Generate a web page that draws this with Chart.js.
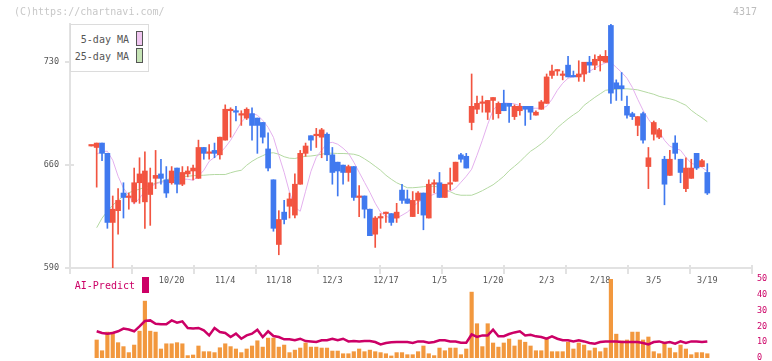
<!DOCTYPE html>
<html><head><meta charset="utf-8">
<script src="https://cdn.jsdelivr.net/npm/chart.js@4.4.1/dist/chart.umd.min.js"></script>
<style>
html,body{margin:0;padding:0;background:#fff}
#wrap{position:relative;width:772px;height:361px;overflow:hidden;font-family:'DejaVu Sans Mono',monospace}
canvas{position:absolute;left:0}
.t{position:absolute;white-space:nowrap;font-size:10px;line-height:12px}
.sw{position:absolute;box-sizing:border-box}
</style></head><body>
<div id="wrap">
<canvas id="main" width="772" height="290" style="top:0"></canvas>
<canvas id="vol" width="772" height="91" style="top:270px"></canvas>
<div class="t" style="left:14px;top:6px;color:#c8c8c8">(C)https://chartnavi.com/</div>
<div class="t" style="left:733px;top:6px;color:#bdbdbd">4317</div>
<div style="position:absolute;left:70px;top:24px;width:79px;height:48px;box-sizing:border-box;border:1px solid #dcdcdc;background:#fff"></div>
<div class="t" style="right:643px;top:34px;color:#555">5-day MA</div>
<div class="t" style="right:643px;top:51px;color:#555">25-day MA</div>
<div class="sw" style="left:136px;top:31px;width:7px;height:15px;border:1px solid #555;background:#f0c6f0"></div>
<div class="sw" style="left:136px;top:48px;width:7px;height:15px;border:1px solid #555;background:#c6e4b6"></div>
<div class="t" style="right:637px;top:280px;color:#cc0066">AI-Predict</div>
<div class="sw" style="left:142px;top:277px;width:7px;height:16px;background:#cc0066"></div>
</div>
<script>
// ---- data ----
const dates = ["9/26","9/29","9/30","10/1","10/2","10/3","10/6","10/7","10/8","10/9",
"10/10","10/14","10/15","10/16","10/17","10/20","10/21","10/22","10/23","10/24",
"10/27","10/28","10/29","10/30","10/31","11/4","11/5","11/6","11/7","11/10",
"11/11","11/12","11/13","11/14","11/17","11/18","11/19","11/20","11/21","11/25",
"11/26","11/27","11/28","12/1","12/2","12/3","12/4","12/5","12/8","12/9",
"12/10","12/11","12/12","12/15","12/16","12/17","12/18","12/19","12/22","12/23",
"12/24","12/25","12/26","12/29","12/30","1/5","1/6","1/7","1/8","1/9",
"1/13","1/14","1/15","1/16","1/19","1/20","1/21","1/22","1/23","1/26",
"1/27","1/28","1/29","1/30","2/2","2/3","2/4","2/5","2/6","2/9",
"2/10","2/12","2/13","2/16","2/17","2/18","2/19","2/20","2/24","2/25",
"2/26","2/27","3/2","3/3","3/4","3/5","3/6","3/9","3/10","3/11",
"3/12","3/13","3/16","3/17","3/18","3/19"];
const tickLabels = ["10/20","11/4","11/18","12/3","12/17","1/5","1/20","2/3","2/18","3/5","3/19"];
const yTicks = [590,660,730];
const volTicks = [0,10,20,30,40,50];

const opens = [673,672,675,668,621,629,641,638,635,648, 635,640,651,654,650,648,658,647,654,656,
651,672,668,670,667,677,697,697,694,692, 695,692,689,671,650,606,628,632,626,647,
668,680,680,679,681,667,662,660,655,659, 638,639,630,613,624,627,627,624,643,637,
625,636,641,624,647,648,638,647,649,667, 666,689,698,702,696,704,695,702,702,693,
697,700,700,694,698,702,721,724,721,728, 721,720,722,730,728,731,730,755,716,714,
700,695,687,695,659,681,679,664,653,675, 664,644,651,668,659,655];
const highs = [673,675,675,668,639,644,648,641,658,665, 669,658,670,664,659,659,658,659,659,660,
677,672,674,675,679,701,699,700,697,699, 699,692,689,682,650,629,636,641,654,670,
675,680,685,685,682,672,662,660,660,659, 646,639,630,625,627,628,627,634,647,643,
642,642,641,650,650,655,647,658,662,668, 668,722,707,707,704,706,703,711,702,701,
702,700,700,697,704,722,728,725,724,734, 724,731,730,734,735,735,738,756,718,723,
707,696,693,696,672,690,685,666,670,680, 664,665,664,668,664,661];
const lows = [673,645,663,617,590,613,624,630,634,634, 617,619,644,647,638,647,641,646,652,650,
651,664,664,665,664,677,679,690,687,691, 677,668,675,656,615,599,620,624,624,647,
666,670,672,665,663,647,639,647,649,636, 625,624,612,604,617,621,619,621,634,634,
625,627,616,624,641,638,638,643,649,662, 658,684,695,696,691,691,692,697,689,691,
694,687,691,694,698,702,719,721,718,720, 720,717,717,723,725,724,730,702,704,704,
692,691,680,675,644,677,678,633,653,664, 648,642,651,657,659,640];
const closes = [673,675,668,621,630,636,638,639,648,654, 656,648,653,651,641,656,647,655,656,658,
672,668,669,668,679,698,697,696,694,698, 687,687,679,658,617,623,623,637,647,668,
673,677,680,684,667,655,656,655,659,638, 638,630,612,624,624,627,621,628,636,634,
636,641,626,647,647,638,647,647,662,664, 658,700,702,702,704,706,702,697,700,700,
700,698,696,696,703,720,724,724,721,720, 720,722,730,728,732,734,734,709,712,712,
694,693,693,677,665,689,684,647,664,668, 655,658,658,658,663,641];
const ma5 = [null,667.4,669.4,669.4,663.3,652.4,644.3,639.5,633.4,637.5,642.2,
644.9,647.3,648.3,649.0,649.7,649.7,650.4,650.4,649.7,652.4,
656.5,662.6,665.3,668.1,672.1,676.9,683.0,689.1,693.2,695.3,
693.9,690.5,685.7,678.9,666.7,655.1,641.5,631.3,628.6,642.2,
655.8,665.3,670.1,674.9,675.5,674.2,671.5,668.1,662.0,655.1,
648.3,641.5,634.1,628.0,625.2,623.9,623.9,625.9,628.0,631.3,
634.7,636.8,638.8,640.2,641.9,641.9,642.2,644.3,648.3,652.4,
657.2,666.7,676.9,687.8,697.3,701.4,702.3,702.1,701.7,700.4,
699.3,698.7,698.7,698.7,700.0,704.8,710.9,715.7,719.1,720.1,
720.8,722.1,723.8,725.9,727.9,729.6,729.9,726.5,723.1,719.1,
712.9,704.8,697.3,691.2,686.4,683.0,676.9,672.8,671.5,670.1,
665.3,661.3,659.9,658.5,655.8];
const ma25 = [null,617.4,623.9,628.6,632.7,636.1,638.8,641.2,642.6,643.6,645.0,
646.3,647.7,648.7,650.0,651.1,651.7,652.1,652.4,652.8,653.1,
653.1,653.4,653.6,653.6,653.6,654.8,655.8,656.5,659.9,662.6,
664.7,666.4,668.1,668.4,667.4,665.7,664.7,664.5,665.3,666.0,
666.2,666.7,667.4,668.1,668.1,667.9,667.9,667.7,667.4,666.4,
664.3,661.9,659.2,656.5,653.1,650.4,648.0,646.3,644.6,644.6,
644.9,645.3,645.6,645.6,644.9,643.6,641.9,640.2,639.5,639.5,
639.5,640.9,642.6,644.6,646.6,649.4,652.4,656.2,659.2,662.3,
666.0,669.4,671.8,674.5,677.6,681.3,685.4,688.5,691.5,694.2,
696.6,700.7,703.4,706.1,708.5,710.9,711.4,711.6,711.8,711.9,
711.6,711.2,710.2,709.2,708.2,706.8,705.9,705.1,704.1,702.4,
700.7,697.3,694.6,692.2,689.5];
const volume = [null,11.4,4.6,16.4,16.4,9.7,7.2,3.4,8.2,17,36,
17,16.4,5.7,9.0,9.0,9.7,9.0,1.5,1.9,7.6,
4.0,4.0,3.4,6.5,9.0,7.2,5.7,3.4,5.7,7.6,
10.9,6.9,12.6,12.6,6.9,8.2,3.4,5.0,6.3,9.5,
6.9,6.9,6.3,6.3,4.4,4.4,2.7,2.7,4.0,5.7,
4.0,5.0,4.0,3.4,2.7,1.3,3.4,3.4,2.1,2.1,
4.0,7.6,2.7,1.5,6.3,4.6,6.3,6.3,2.1,5.7,
41.7,21.7,7.2,21.7,9.5,6.9,9.5,12.0,7.6,11.4,
10,7.6,4.6,4.6,12.6,4.0,4.0,4.0,10,5.7,
9.5,8.2,4.6,6.3,4.0,6.3,50,15.1,10.8,11.4,
16.4,16.4,11.4,13.3,4.0,2.7,10,6.3,3.4,8.2,
5.7,2.1,3.4,3.4,2.7];
const aiPredict = [null,16.9,15.8,15.4,15.8,16.9,18.6,18.0,16.9,20,23.4,
23.8,21.7,21.3,21.3,23.8,22.3,23.2,19,18.7,19,
17.5,14.3,19,16.4,15.8,13.3,15.4,12.2,14.3,15.4,
17.9,13.3,16.9,13.9,13.3,11.8,11.8,11.2,12.2,10.7,
10.5,10.1,11.2,11.2,12.2,11.2,12.2,10.5,10.7,10.5,
10.7,10.7,10.1,8.6,9.5,9.9,10.1,10.1,10.1,9.5,
10.5,10.5,9.7,10.1,11.2,11.2,10.5,10.5,9.7,9.7,
14.9,13.3,14.3,14.3,17.9,13.7,13.8,15.2,16.2,16.9,
14.3,14.7,13.7,13.3,12.2,13.7,12.2,11.2,11.2,10.5,
11.2,10.5,9.5,9.1,10.1,10.5,10.5,10.5,10.1,10.1,
10.1,10.1,9.5,8.6,10.1,10.5,9.5,10.1,9.1,10.5,
9.5,10.5,10.5,10.1,10.5];

// ---- styling ----
const UP = '#f25440', DOWN = '#4079ef', AXIS = '#e2e2e2';
const FONT = "'DejaVu Sans Mono', monospace";
const X_MIN = -3.98, X_MAX = 123.34;
const idx = dates.map((d, i) => i);
const candleColors = idx.map(i => closes[i] >= opens[i] ? UP : DOWN);

const tickMarks = {
  id: 'tickMarks',
  afterDraw(chart) {
    const {ctx, chartArea: a, scales} = chart;
    ctx.save();
    ctx.strokeStyle = AXIS; ctx.lineWidth = 2;
    ctx.beginPath();
    scales.y.ticks.forEach(t => {
      const y = Math.round(scales.y.getPixelForValue(t.value));
      ctx.moveTo(a.left - 5, y); ctx.lineTo(a.left + 4, y);
    });
    for (let k = 0; k <= 11; k++) {
      const x = Math.round(a.left + (a.right - a.left) * k / 11);
      ctx.moveTo(x, a.bottom - 3); ctx.lineTo(x, a.bottom + 6);
    }
    ctx.stroke();
    ctx.restore();
  }
};

new Chart(document.getElementById('main'), {
  type: 'bar',
  data: {
    datasets: [
      { label: 'body', data: idx.map(i => ({x: i, y: [opens[i], closes[i]]})),
        backgroundColor: candleColors, barThickness: 5, minBarLength: 1.5, grouped: false, order: 0 },
      { label: 'wick', data: idx.map(i => ({x: i, y: [lows[i], highs[i]]})),
        backgroundColor: candleColors, barThickness: 1, minBarLength: 1, grouped: false, order: 1 },
      { type: 'line', label: '5-day MA', data: idx.map(i => ({x: i, y: ma5[i]})),
        borderColor: '#e4b0ee', borderWidth: 1, pointRadius: 0, tension: 0, order: 2 },
      { type: 'line', label: '25-day MA', data: idx.map(i => ({x: i, y: ma25[i]})),
        borderColor: '#b4d9a2', borderWidth: 1, pointRadius: 0, tension: 0, order: 3 }
    ]
  },
  options: {
    responsive: false, maintainAspectRatio: false, animation: false, devicePixelRatio: 1,
    layout: {padding: {left: 0, right: 20, top: 24, bottom: 0}},
    plugins: {legend: {display: false}, tooltip: {enabled: false}},
    scales: {
      x: {
        type: 'linear', min: X_MIN, max: X_MAX, offset: false,
        grid: {display: false, drawTicks: false},
        border: {display: true, color: AXIS, width: 2},
        afterBuildTicks: s => { s.ticks = tickLabels.map(l => ({value: dates.indexOf(l)})); },
        ticks: {autoSkip: false, maxRotation: 0, padding: 8, color: '#555',
                font: {family: FONT, size: 8.5}, callback: v => dates[v]},
        afterFit: s => { s.height = 22; s.paddingLeft = 0; s.paddingRight = 0; }
      },
      y: {
        min: 590, max: 756,
        grid: {display: false, drawTicks: false},
        border: {display: true, color: AXIS, width: 2},
        afterBuildTicks: s => { s.ticks = yTicks.map(v => ({value: v})); },
        ticks: {padding: 11, color: '#555', font: {family: FONT, size: 8.5}},
        afterFit: s => { s.width = 70; s.paddingTop = 0; s.paddingBottom = 0; }
      }
    }
  },
  plugins: [tickMarks]
});

new Chart(document.getElementById('vol'), {
  type: 'bar',
  data: {
    datasets: [
      { type: 'line', label: 'AI-Predict', data: idx.map(i => ({x: i, y: aiPredict[i]})),
        borderColor: '#cc0066', borderWidth: 2.5, pointRadius: 0, tension: 0, order: 0 },
      { label: 'volume', data: idx.map(i => ({x: i, y: volume[i]})),
        backgroundColor: '#f2983e', barThickness: 3.5, order: 1 }
    ]
  },
  options: {
    responsive: false, maintainAspectRatio: false, animation: false, devicePixelRatio: 1,
    layout: {padding: {left: 70, right: 0, top: 9, bottom: 3}},
    plugins: {legend: {display: false}, tooltip: {enabled: false}},
    scales: {
      x: {type: 'linear', min: X_MIN, max: X_MAX, offset: false, display: false},
      y: {
        position: 'right', min: 0, max: 50,
        grid: {display: false, drawTicks: false},
        border: {display: false},
        afterBuildTicks: s => { s.ticks = volTicks.map(v => ({value: v})); },
        ticks: {padding: 5, color: '#cc0066', font: {family: FONT, size: 8.5}},
        afterFit: s => { s.width = 20; s.paddingTop = 0; s.paddingBottom = 0; }
      }
    }
  }
});
</script>
</body></html>
